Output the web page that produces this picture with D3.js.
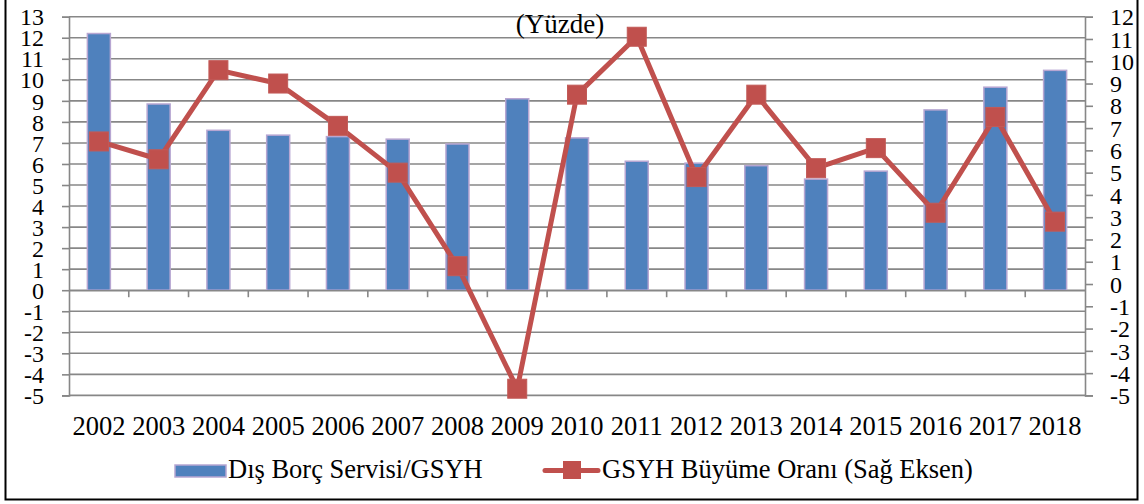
<!DOCTYPE html>
<html>
<head>
<meta charset="utf-8">
<script src="https://cdn.jsdelivr.net/npm/d3@7"></script>
<style>
  html, body { margin: 0; padding: 0; background: #fff; }
  svg { display: block; }
  text { font-family: "Liberation Serif", "Times New Roman", serif; fill: #000; }
</style>
</head>
<body>
<svg id="chart" width="1144" height="504"></svg>
<script>
const years = ["2002","2003","2004","2005","2006","2007","2008","2009","2010","2011","2012","2013","2014","2015","2016","2017","2018"];
const debtService = [12.2, 8.85, 7.6, 7.37, 7.3, 7.18, 6.95, 9.1, 7.24, 6.13, 6.04, 5.92, 5.28, 5.66, 8.57, 9.65, 10.45];
const gdpGrowth = [6.4, 5.6, 9.6, 9.0, 7.1, 5.0, 0.8, -4.7, 8.5, 11.1, 4.8, 8.5, 5.2, 6.1, 3.2, 7.5, 2.8];
const leftTicks = [-5,-4,-3,-2,-1,0,1,2,3,4,5,6,7,8,9,10,11,12,13];
const rightTicks = [-5,-4,-3,-2,-1,0,1,2,3,4,5,6,7,8,9,10,11,12];
const titleText = "(Yüzde)";
const seriesNames = ["Dış Borç Servisi/GSYH", "GSYH Büyüme Oranı (Sağ Eksen)"];

const svg = d3.select("#chart");
const plotL = 69, plotR = 1085, plotT = 16.7, plotB = 395.4;
const gridColor = "#878787";
const barColor = "#4f81bd", barStroke = "#b7a6d2";
const lineColor = "#c0504d";
const axisFont = 24, textFont = 26.5;
const fmt = d => String(d);

const x = d3.scaleBand().domain(years).range([plotL, plotR]);
const yL = d3.scaleLinear().domain([-5, 13]).range([plotB, plotT]);
const yR = d3.scaleLinear().domain([-5, 12]).range([plotB, plotT]);

// outer frame (left, bottom, right)
svg.append("path")
  .attr("d", "M5.5,0 L5.5,499.5 L1137.5,499.5 L1137.5,0")
  .attr("fill", "none").attr("stroke", "#000").attr("stroke-width", 2);

// gridlines
svg.append("g").selectAll("line").data(leftTicks).join("line")
  .attr("x1", plotL).attr("x2", plotR)
  .attr("y1", d => yL(d)).attr("y2", d => yL(d))
  .attr("stroke", gridColor).attr("stroke-width", 1.6);

// left axis
const gL = svg.append("g").attr("transform", `translate(${plotL},0)`)
  .call(d3.axisLeft(yL).tickValues(leftTicks).tickSize(7).tickPadding(18).tickFormat(fmt));
gL.select(".domain").attr("stroke", gridColor).attr("stroke-width", 1.6);
gL.selectAll(".tick line").attr("stroke", gridColor).attr("stroke-width", 1.6);
gL.selectAll(".tick text").attr("font-size", axisFont).attr("font-family", "Liberation Serif").attr("fill", "#000").attr("dy", "0.34em");

// right axis
const gR = svg.append("g").attr("transform", `translate(${plotR},0)`)
  .call(d3.axisRight(yR).tickValues(rightTicks).tickSize(8).tickPadding(17).tickFormat(fmt));
gR.select(".domain").attr("stroke", gridColor).attr("stroke-width", 1.6);
gR.selectAll(".tick line").attr("stroke", gridColor).attr("stroke-width", 1.6);
gR.selectAll(".tick text").attr("font-size", axisFont).attr("font-family", "Liberation Serif").attr("fill", "#000").attr("dy", "0.34em");

// bars
const barW = 23;
svg.append("g").selectAll("rect").data(years).join("rect")
  .attr("x", d => x(d) + x.bandwidth() / 2 - barW / 2)
  .attr("width", barW)
  .attr("y", (d, i) => yL(debtService[i]))
  .attr("height", (d, i) => yL(0) - yL(debtService[i]))
  .attr("fill", barColor).attr("stroke", barStroke).attr("stroke-width", 1.5);

// category axis at zero
const gX = svg.append("g").attr("transform", `translate(0,${yL(0)})`)
  .call(d3.axisBottom(x).tickSize(0).tickFormat(""));
gX.select(".domain").attr("stroke", gridColor).attr("stroke-width", 1.6);
svg.append("g").selectAll("line").data(years.slice(1)).join("line")
  .attr("x1", d => x(d)).attr("x2", d => x(d))
  .attr("y1", yL(0)).attr("y2", yL(0) + 7)
  .attr("stroke", gridColor).attr("stroke-width", 1.6);

// category labels
svg.append("g").selectAll("text").data(years).join("text")
  .attr("x", d => x(d) + x.bandwidth() / 2)
  .attr("y", 435)
  .attr("text-anchor", "middle")
  .attr("font-size", textFont)
  .text(d => d);

// line series
const line = d3.line()
  .x((d, i) => x(years[i]) + x.bandwidth() / 2)
  .y(d => yR(d));
svg.append("path").datum(gdpGrowth)
  .attr("d", line).attr("fill", "none")
  .attr("stroke", lineColor).attr("stroke-width", 5).attr("stroke-linejoin", "round");
const mk = 19;
svg.append("g").selectAll("rect").data(gdpGrowth).join("rect")
  .attr("x", (d, i) => x(years[i]) + x.bandwidth() / 2 - mk / 2)
  .attr("y", d => yR(d) - mk / 2)
  .attr("width", mk).attr("height", mk)
  .attr("fill", lineColor).attr("stroke", "#c25a57").attr("stroke-width", 1);

// title
svg.append("text").attr("x", 560).attr("y", 33).attr("text-anchor", "middle")
  .attr("font-size", 27).text(titleText);

// legend
const lg = svg.append("g");
lg.append("rect").attr("x", 175).attr("y", 465).attr("width", 51).attr("height", 12)
  .attr("fill", barColor).attr("stroke", barStroke).attr("stroke-width", 1.5);
lg.append("text").attr("x", 228).attr("y", 478).attr("font-size", textFont).text(seriesNames[0]);
lg.append("line").attr("x1", 545).attr("x2", 598).attr("y1", 470.5).attr("y2", 470.5)
  .attr("stroke", lineColor).attr("stroke-width", 5).attr("stroke-linecap", "round");
lg.append("rect").attr("x", 563).attr("y", 461).attr("width", 18).attr("height", 18)
  .attr("fill", lineColor);
lg.append("text").attr("x", 602).attr("y", 478).attr("font-size", textFont).text(seriesNames[1]);
</script>
</body>
</html>
